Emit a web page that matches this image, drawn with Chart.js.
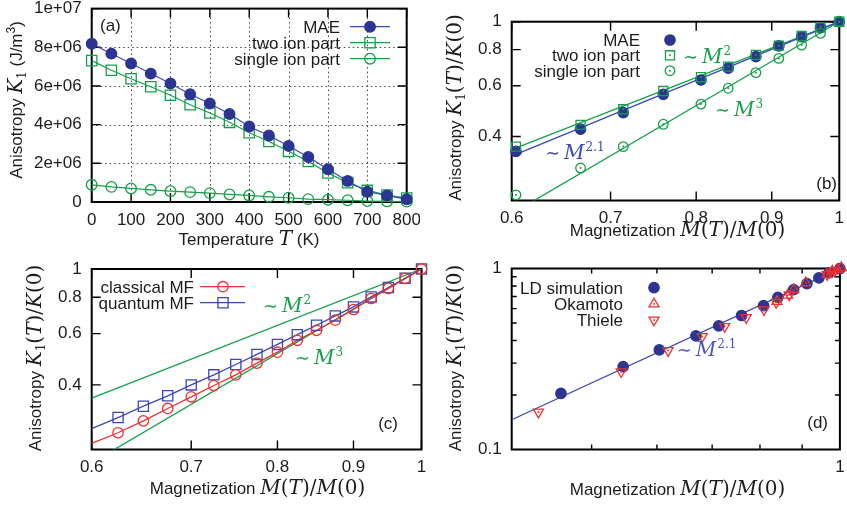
<!DOCTYPE html>
<html>
<head>
<meta charset="utf-8">
<script src="https://cdn.jsdelivr.net/npm/chart.js@4.4.0/dist/chart.umd.min.js"></script>
<style>
  html, body { margin: 0; padding: 0; background: #fff; }
  #wrap { position: relative; width: 847px; height: 505px; overflow: hidden; }
  canvas { position: absolute; }
</style>
</head>
<body>
<div id="wrap">
  <canvas id="pa"></canvas>
  <canvas id="pb"></canvas>
  <canvas id="pc"></canvas>
  <canvas id="pd"></canvas>
</div>
<script>
// ---- data ----
// (a) anisotropy vs temperature
const temps = [0, 50, 100, 150, 200, 250, 300, 350, 400, 450, 500, 550, 600, 650, 700, 750, 800];
const maeK = [8.18e6, 7.67e6, 7.16e6, 6.64e6, 6.13e6, 5.57e6, 5.09e6, 4.55e6, 3.9e6, 3.44e6, 2.9e6, 2.33e6, 1.69e6, 1.09e6, 0.53e6, 0.34e6, 0.14e6];
const twoIonK = [7.31e6, 6.81e6, 6.37e6, 5.96e6, 5.52e6, 5.03e6, 4.6e6, 4.12e6, 3.58e6, 3.13e6, 2.62e6, 2.1e6, 1.5e6, 1.0e6, 0.6e6, 0.36e6, 0.2e6];
const singleIonK = [0.89e6, 0.78e6, 0.7e6, 0.63e6, 0.56e6, 0.51e6, 0.46e6, 0.39e6, 0.34e6, 0.27e6, 0.22e6, 0.15e6, 0.12e6, 0.09e6, 0.05e6, 0.03e6, 0.02e6];
const aXTicks = [0, 100, 200, 300, 400, 500, 600, 700, 800];
const aYTicks = [0, 2e6, 4e6, 6e6, 8e6, 1e7];
const aYLabels = ['0', '2e+06', '4e+06', '6e+06', '8e+06', '1e+07'];

// (b) reduced anisotropy vs magnetization
const magB = [0.604, 0.668, 0.714, 0.760, 0.806, 0.841, 0.878, 0.910, 0.943, 0.971, 1.0];
const maeRatioB = [0.355, 0.424, 0.484, 0.560, 0.628, 0.690, 0.757, 0.824, 0.887, 0.953, 1.0];
const twoIonRatioB = [0.369, 0.439, 0.497, 0.575, 0.642, 0.699, 0.767, 0.826, 0.892, 0.956, 1.0];
const singleIonRatioB = [0.251, 0.311, 0.369, 0.441, 0.518, 0.588, 0.666, 0.746, 0.830, 0.911, 1.0];

// power-law guide lines (end points)
const fitMag = [0.6, 1.0];
const fitM2 = [0.36, 1.0];
const fitM21 = [0.342, 1.0];
const fitM3 = [0.216, 1.0];

// (c) mean field
const magC = [0.625, 0.65, 0.675, 0.7, 0.725, 0.75, 0.775, 0.8, 0.825, 0.85, 0.875, 0.9, 0.925, 0.95, 0.975, 1.0];
const classicalMF = [0.274, 0.301, 0.332, 0.364, 0.398, 0.433, 0.475, 0.518, 0.569, 0.616, 0.667, 0.726, 0.792, 0.858, 0.929, 1.0];
const quantumMF = [0.309, 0.338, 0.367, 0.400, 0.433, 0.470, 0.509, 0.551, 0.595, 0.641, 0.690, 0.741, 0.802, 0.864, 0.929, 1.0];
const classicalAtStart = 0.252;
const quantumAtStart = 0.283;

// (d) comparison with experiment
const ldMag = [0.459, 0.546, 0.604, 0.669, 0.713, 0.760, 0.808, 0.841, 0.879, 0.912, 0.943, 0.970, 1.0];
const ldK = [0.204, 0.287, 0.355, 0.424, 0.482, 0.550, 0.623, 0.693, 0.764, 0.825, 0.887, 0.946, 1.0];
const okaMag = [0.839, 0.864, 0.879, 0.909, 0.965, 0.979, 0.993, 1.004];
const okaK = [0.658, 0.711, 0.764, 0.833, 0.926, 0.966, 0.987, 1.01];
const thieleMag = [0.431, 0.543, 0.619, 0.681, 0.725, 0.770, 0.809, 0.837, 0.868, 0.965, 0.985];
const thieleK = [0.161, 0.269, 0.352, 0.421, 0.478, 0.536, 0.592, 0.650, 0.715, 0.925, 0.97];
const fitMagD = [0.4, 1.0];
const fitM21D = [0.146, 1.0];

const magTicks = [0.6, 0.7, 0.8, 0.9, 1];
const ratioTicks = [0.4, 0.6, 0.8, 1];
const dMinorX = [0.5, 0.6, 0.7, 0.8, 0.9];
const dMinorY = [0.2, 0.3, 0.4, 0.5, 0.6, 0.7, 0.8, 0.9];

// ---- styling ----
const NAVY = '#2c3592';
const BLUE = '#3c48b4';
const GREEN = '#14a04a';
const RED = '#ee3030';
const INK = '#1c1c1c';
const SANS = '"Liberation Sans", Arial, sans-serif';
const MATH = '"DejaVu Serif", serif';
const NONE = 'rgba(0,0,0,0)';

Chart.defaults.font.family = SANS;
Chart.defaults.font.size = 17;
Chart.defaults.color = INK;

const pts = (xs, ys) => xs.map((x, i) => ({ x, y: ys[i] }));

// run kinds: font, baseline shift
const FONTS = {
  s: ['17px ' + SANS, 0],
  ssup: ['12px ' + SANS, -7],
  i: ['italic 20px ' + MATH, 0],
  r: ['20px ' + MATH, 0],
  sub: ['12px ' + MATH, 4],
  sup: ['12px ' + MATH, -8],
  sim: ['18px ' + MATH, 0]
};

function drawRuns(ctx, t) {
  ctx.save();
  ctx.translate(t.x, t.y);
  if (t.rot) ctx.rotate(t.rot);
  const widthOf = r => {
    if (r[0] === 'gap') return r[1];
    ctx.font = FONTS[r[0]][0];
    return ctx.measureText(r[1]).width;
  };
  let w = 0;
  t.runs.forEach(r => { w += widthOf(r); });
  let cx = t.align === 'center' ? -w / 2 : t.align === 'right' ? -w : 0;
  ctx.textBaseline = 'alphabetic';
  ctx.textAlign = 'left';
  ctx.fillStyle = t.color || INK;
  t.runs.forEach(r => {
    const rw = widthOf(r);
    if (r[0] !== 'gap') ctx.fillText(r[1], cx, FONTS[r[0]][1]);
    cx += rw;
  });
  ctx.restore();
}

// border, inward ticks on all sides, optional dotted grid
const gnuFrame = {
  id: 'gnuFrame',
  beforeDatasetsDraw(chart, args, o) {
    const { ctx, chartArea: a } = chart;
    const xs = chart.scales.x, ys = chart.scales.y;
    ctx.save();
    if (o.grid) {
      ctx.strokeStyle = '#444';
      ctx.lineWidth = 1;
      ctx.setLineDash([1.5, 3]);
      o.xTicks.slice(1, -1).forEach(v => {
        const p = Math.round(xs.getPixelForValue(v)) + 0.5;
        ctx.beginPath(); ctx.moveTo(p, a.top); ctx.lineTo(p, a.bottom); ctx.stroke();
      });
      o.yTicks.slice(1, -1).forEach(v => {
        const p = Math.round(ys.getPixelForValue(v)) + 0.5;
        ctx.beginPath(); ctx.moveTo(a.left, p); ctx.lineTo(a.right, p); ctx.stroke();
      });
      ctx.setLineDash([]);
    }
    ctx.strokeStyle = '#000';
    ctx.lineWidth = 1.4;
    const tick = (list, len) => {
      (list.x || []).forEach(v => {
        const p = xs.getPixelForValue(v);
        ctx.beginPath();
        ctx.moveTo(p, a.bottom); ctx.lineTo(p, a.bottom - len);
        ctx.moveTo(p, a.top); ctx.lineTo(p, a.top + len);
        ctx.stroke();
      });
      (list.y || []).forEach(v => {
        const p = ys.getPixelForValue(v);
        ctx.beginPath();
        ctx.moveTo(a.left, p); ctx.lineTo(a.left + len, p);
        ctx.moveTo(a.right, p); ctx.lineTo(a.right - len, p);
        ctx.stroke();
      });
    };
    tick({ x: o.xTicks, y: o.yTicks }, 9);
    tick({ x: o.xMinor, y: o.yMinor }, 5);
    ctx.lineWidth = 2;
    ctx.strokeRect(a.left, a.top, a.right - a.left, a.bottom - a.top);
    ctx.restore();
  }
};

// legend in the gnuplot manner: right aligned text, sample line, marker
const gnuLegend = {
  id: 'gnuLegend',
  afterDatasetsDraw(chart, args, o) {
    if (!o.rows) return;
    const ctx = chart.ctx;
    o.rows.forEach(row => {
      drawRuns(ctx, { x: o.right, y: row.y + 6, align: 'right', runs: [['s', row.label]] });
      const ds = chart.data.datasets[row.ds];
      ctx.save();
      if (o.lineL !== undefined) {
        ctx.strokeStyle = ds.borderColor;
        ctx.lineWidth = ds.borderWidth;
        ctx.beginPath(); ctx.moveTo(o.lineL, row.y); ctx.lineTo(o.lineR, row.y); ctx.stroke();
      }
      ctx.fillStyle = ds.pointBackgroundColor;
      ctx.strokeStyle = ds.pointBorderColor;
      ctx.lineWidth = ds.pointBorderWidth;
      Chart.helpers.drawPoint(ctx, { pointStyle: ds.pointStyle, radius: ds.pointRadius, rotation: ds.pointRotation || 0, borderWidth: ds.pointBorderWidth }, o.marker, row.y);
      if (row.dot) {
        ctx.fillStyle = ds.pointBorderColor;
        ctx.beginPath(); ctx.arc(o.marker, row.y, 1, 0, Math.PI * 2); ctx.fill();
      }
      ctx.restore();
    });
  }
};

const richText = {
  id: 'richText',
  afterDraw(chart, args, o) {
    (o.items || []).forEach(t => drawRuns(chart.ctx, t));
  }
};

function fixedAxes(geo, xCfg, yCfg) {
  const zeroPad = s => { s.paddingLeft = 0; s.paddingRight = 0; s.paddingTop = 0; s.paddingBottom = 0; };
  const common = { grid: { display: false, drawTicks: false }, border: { display: false } };
  return {
    x: Object.assign({}, common, xCfg, {
      ticks: Object.assign({ padding: 8, autoSkip: false, maxRotation: 0, color: INK }, xCfg.ticks),
      afterFit(s) { s.height = geo.h - geo.b; zeroPad(s); }
    }),
    y: Object.assign({}, common, yCfg, {
      ticks: Object.assign({ padding: 10, autoSkip: false, color: INK }, yCfg.ticks),
      afterFit(s) { s.width = geo.l; zeroPad(s); }
    })
  };
}

function makePanel(id, geo, datasets, scales, frame, legend, texts) {
  const cv = document.getElementById(id);
  cv.width = geo.w; cv.height = geo.h;
  cv.style.left = geo.left + 'px'; cv.style.top = geo.top + 'px';
  cv.style.width = geo.w + 'px'; cv.style.height = geo.h + 'px';
  return new Chart(cv, {
    type: 'scatter',
    data: { datasets },
    options: {
      responsive: false,
      animation: false,
      devicePixelRatio: 1,
      events: [],
      layout: { padding: { left: 0, top: geo.t, right: geo.w - geo.r, bottom: 0 } },
      scales: fixedAxes(geo, scales.x, scales.y),
      plugins: {
        legend: { display: false },
        tooltip: { enabled: false },
        gnuFrame: frame,
        gnuLegend: legend,
        richText: { items: texts }
      }
    },
    plugins: [gnuFrame, gnuLegend, richText]
  });
}

const logAxis = (min, max, ticks) => ({
  type: 'logarithmic', min, max, bounds: 'data',
  afterBuildTicks(s) { s.ticks = ticks.map(v => ({ value: v })); },
  ticks: { callback: v => String(v) }
});

const markers = (data, style, r, fill, stroke, extra) => Object.assign({
  data, showLine: false, pointStyle: style, pointRadius: r,
  pointBackgroundColor: fill, pointBorderColor: stroke, pointBorderWidth: 1.3,
  borderColor: stroke, borderWidth: 1.2, clip: false
}, extra || {});

const guide = (xs, ys, color) => ({
  data: pts(xs, ys), showLine: true, pointRadius: 0, borderColor: color, borderWidth: 1.3, clip: 0
});

const dots = (data, color) => ({
  data, showLine: false, pointStyle: 'circle', pointRadius: 1, pointBorderWidth: 0,
  pointBackgroundColor: color, clip: false
});

const yTitleRatio = [['s', 'Anisotropy '], ['i', 'K'], ['sub', '1'], ['r', '('], ['i', 'T'], ['r', ')/'], ['i', 'K'], ['r', '(0)']];
const xTitleMag = [['s', 'Magnetization '], ['i', 'M'], ['r', '('], ['i', 'T'], ['r', ')/'], ['i', 'M'], ['r', '(0)']];
const powerLaw = (p) => [['sim', '∼'], ['gap', 4], ['i', 'M'], ['gap', 1], ['sup', p]];

// ---- (a) ----
makePanel('pa', { left: 0, top: 0, w: 420, h: 250, l: 91.7, r: 406.7, t: 7, b: 202 }, [
  markers(pts(temps, maeK), 'circle', 5.3, NAVY, NAVY, { showLine: true, borderColor: BLUE }),
  markers(pts(temps, twoIonK), 'rect', 7.3, NONE, GREEN, { showLine: true }),
  markers(pts(temps, singleIonK), 'circle', 5.3, NONE, GREEN, { showLine: true })
], {
  x: { type: 'linear', min: 0, max: 800, afterBuildTicks(s) { s.ticks = aXTicks.map(v => ({ value: v })); } },
  y: { type: 'linear', min: 0, max: 1e7, afterBuildTicks(s) { s.ticks = aYTicks.map(v => ({ value: v })); },
       ticks: { callback: v => aYLabels[aYTicks.indexOf(v)] } }
}, { grid: true, xTicks: aXTicks, yTicks: aYTicks },
{ right: 340, marker: 370, lineL: 350, lineR: 390, rows: [
  { label: 'MAE', y: 26.7, ds: 0 },
  { label: 'two ion part', y: 42.7, ds: 1 },
  { label: 'single ion part', y: 58.7, ds: 2 }
] }, [
  { x: 22, y: 100, rot: -Math.PI / 2, align: 'center', runs: [['s', 'Anisotropy '], ['i', 'K'], ['sub', '1'], ['s', ' (J/m'], ['ssup', '3'], ['s', ')']] },
  { x: 249, y: 245, align: 'center', runs: [['s', 'Temperature '], ['i', 'T'], ['s', ' (K)']] },
  { x: 100, y: 31, align: 'left', runs: [['s', '(a)']] }
]);

// ---- (b) ----
makePanel('pb', { left: 420, top: 0, w: 427, h: 250, l: 91.7, r: 422.7, t: 21.7, b: 200.5 }, [
  dots(pts(magB, twoIonRatioB), GREEN),
  dots(pts(magB, singleIonRatioB), GREEN),
  markers(pts(magB, twoIonRatioB), 'rect', 6.4, NONE, GREEN),
  markers(pts(magB, singleIonRatioB), 'circle', 4.8, NONE, GREEN),
  markers(pts(magB, maeRatioB), 'circle', 5.2, NAVY, NAVY),
  guide(fitMag, fitM21, BLUE),
  guide(fitMag, fitM2, GREEN),
  guide(fitMag, fitM3, GREEN)
], {
  x: logAxis(0.6, 1, magTicks),
  y: logAxis(0.24, 1, ratioTicks)
}, { xTicks: magTicks, yTicks: ratioTicks },
{ right: 220, marker: 250, rows: [
  { label: 'MAE', y: 40, ds: 4 },
  { label: 'two ion part', y: 55.3, ds: 2, dot: true },
  { label: 'single ion part', y: 70.7, ds: 3, dot: true }
] }, [
  { x: 41, y: 107.5, rot: -Math.PI / 2, align: 'center', runs: yTitleRatio },
  { x: 257.5, y: 236, align: 'center', runs: xTitleMag },
  { x: 417, y: 189, align: 'right', runs: [['s', '(b)']] },
  { x: 263, y: 63, color: GREEN, runs: powerLaw('2') },
  { x: 295, y: 116, color: GREEN, runs: powerLaw('3') },
  { x: 125, y: 159, color: BLUE, runs: powerLaw('2.1') }
]);

// ---- (c) ----
makePanel('pc', { left: 0, top: 250, w: 430, h: 255, l: 91.7, r: 421.7, t: 19, b: 199.5 }, [
  markers(pts(magC, classicalMF), 'circle', 5.2, NONE, RED),
  markers(pts(magC, quantumMF), 'rect', 7.2, NONE, BLUE),
  guide([0.6].concat(magC), [classicalAtStart].concat(classicalMF), RED),
  guide([0.6].concat(magC), [quantumAtStart].concat(quantumMF), BLUE),
  guide(fitMag, fitM2, GREEN),
  guide(fitMag, fitM3, GREEN)
], {
  x: logAxis(0.6, 1, magTicks),
  y: logAxis(0.24, 1, ratioTicks)
}, { xTicks: magTicks, yTicks: ratioTicks },
{ right: 194, marker: 223, lineL: 200, lineR: 245, rows: [
  { label: 'classical MF', y: 36.7, ds: 0 },
  { label: 'quantum MF', y: 52.7, ds: 1 }
] }, [
  { x: 41, y: 108, rot: -Math.PI / 2, align: 'center', runs: yTitleRatio },
  { x: 257.5, y: 244, align: 'center', runs: xTitleMag },
  { x: 398, y: 179, align: 'right', runs: [['s', '(c)']] },
  { x: 263, y: 62, color: GREEN, runs: powerLaw('2') },
  { x: 295, y: 114, color: GREEN, runs: powerLaw('3') }
]);

// ---- (d) ----
makePanel('pd', { left: 420, top: 250, w: 427, h: 255, l: 91.7, r: 422.7, t: 18.5, b: 199.5 }, [
  dots(pts(okaMag, okaK), RED),
  dots(pts(thieleMag, thieleK), RED),
  markers(pts(okaMag, okaK), 'triangle', 5.8, NONE, RED),
  markers(pts(thieleMag, thieleK), 'triangle', 5.8, NONE, RED, { pointRotation: 180 }),
  markers(pts(ldMag, ldK), 'circle', 5.2, NAVY, NAVY),
  guide(fitMagD, fitM21D, BLUE)
], {
  x: logAxis(0.4, 1, [1]),
  y: logAxis(0.1, 1, [0.1, 1])
}, { xTicks: [], yTicks: [], xMinor: dMinorX, yMinor: dMinorY },
{ right: 203, marker: 234, rows: [
  { label: 'LD simulation', y: 37.7, ds: 4 },
  { label: 'Okamoto', y: 54, ds: 2, dot: true },
  { label: 'Thiele', y: 70, ds: 3, dot: true }
] }, [
  { x: 41, y: 108, rot: -Math.PI / 2, align: 'center', runs: yTitleRatio },
  { x: 257.5, y: 245, align: 'center', runs: xTitleMag },
  { x: 408, y: 178, align: 'right', runs: [['s', '(d)']] },
  { x: 256.7, y: 106, color: '#4a56c0', runs: powerLaw('2.1') }
]);
</script>
</body>
</html>
